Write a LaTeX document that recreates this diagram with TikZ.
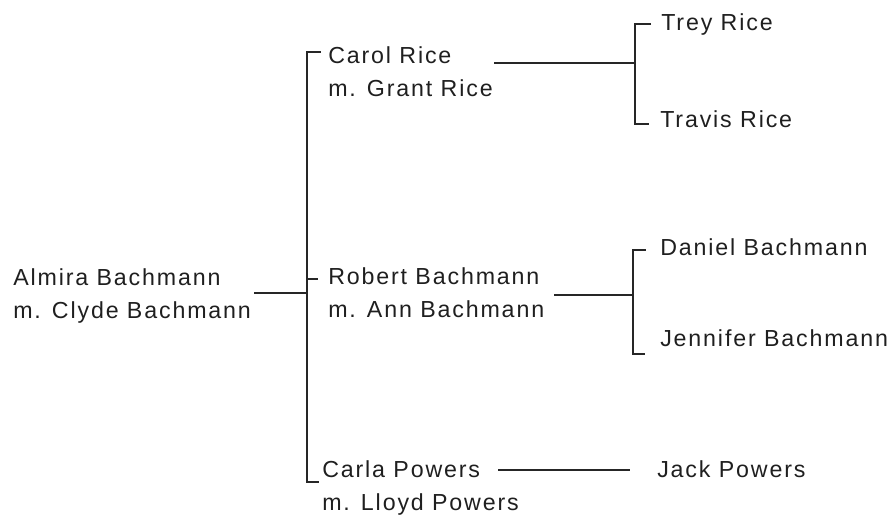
\documentclass[tikz,border=0pt]{standalone}
\usepackage{fontspec}
\newfontfamily\persfont[LetterSpace=8]{Liberation Sans}
\tikzset{
  person/.style={anchor=base west, inner sep=0pt, align=left,
    font=\persfont\fontsize{16.5}{23}\selectfont, text=black!88},
  link/.style={draw=black!85, line width=0.9pt}
}

\begin{document}
\begin{tikzpicture}[x=0.025cm, y=-0.025cm]
  \useasboundingbox (0,0) rectangle (894,521);

  % People (base = last line)
  \node[person] (almira) at (13,318) {Almira Bachmann\\m. Clyde Bachmann};
  \node[person] (carol) at (328,96) {Carol Rice\\m. Grant Rice};
  \node[person] (robert) at (328,317) {Robert Bachmann\\m. Ann Bachmann};
  \node[person] (carla) at (322,510) {Carla Powers\\m. Lloyd Powers};
  \node[person] (trey) at (661,30) {Trey Rice};
  \node[person] (travis) at (660,127) {Travis Rice};
  \node[person] (daniel) at (660,255) {Daniel Bachmann};
  \node[person] (jennifer) at (660,346) {Jennifer Bachmann};
  \node[person] (jack) at (657,477) {Jack Powers};

  % Bracket points
  \coordinate (g0) at (307,293);
  \coordinate (m1) at (307,52);
  \coordinate (m2) at (307,279);
  \coordinate (m3) at (307,482);
  \coordinate (r0) at (635,63);
  \coordinate (r1) at (635,24);
  \coordinate (r2) at (635,124);
  \coordinate (d0) at (633,295);
  \coordinate (d1) at (633,250);
  \coordinate (d2) at (633,354);
  \coordinate (p0) at (498,470);

  % Children of Almira
  \draw[link] ([xshift=2pt]almira.east |- g0) -- (g0);
  \draw[link] ([xshift=-5pt]carol.west |- m1) -- (m1) -- (m3) -- ([xshift=-2pt]carla.west |- m3);
  \draw[link] (m2) -- ([xshift=-7pt]robert.west |- m2);

  % Grandchildren
  \draw[link] ([xshift=1pt]carol.east |- r0) -- (r0);
  \draw[link] ([xshift=-7pt]trey.west |- r1) -- (r1) -- (r2) -- ([xshift=-8pt]travis.west |- r2);
  \draw[link] ([xshift=7pt]robert.east |- d0) -- (d0);
  \draw[link] ([xshift=-10pt]daniel.west |- d1) -- (d1) -- (d2) -- ([xshift=-11pt]jennifer.west |- d2);
  \draw[link] (p0) -- ([xshift=-19pt]jack.west |- p0);
\end{tikzpicture}
\end{document}
